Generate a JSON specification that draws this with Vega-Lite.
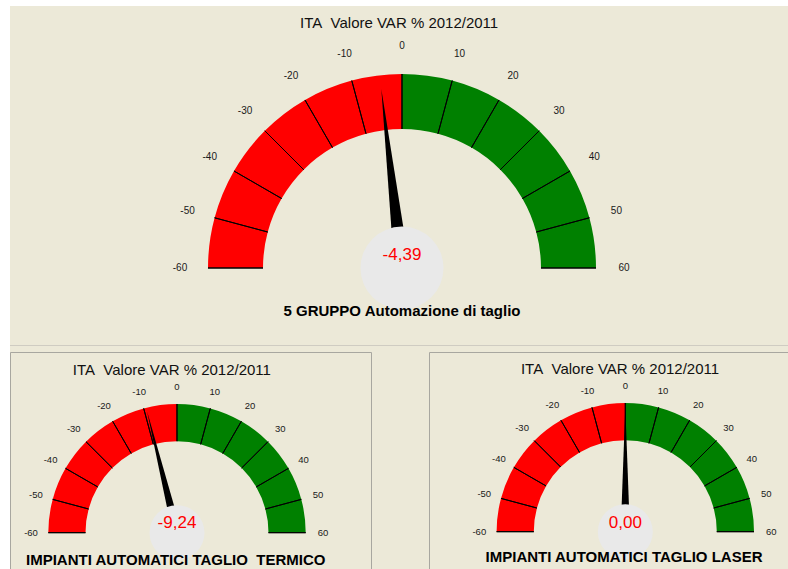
{
  "$schema": "https://vega.github.io/schema/vega-lite/v6.json",
  "background": "#ECE9D8",
  "padding": 0,
  "bounds": "flush",
  "spacing": 0,
  "config": {"view": {"stroke": null}, "font": "Liberation Sans"},
  "datasets": {
    "gauges": [
      {"g": "top", "value": -4.39, "label": "-4,39", "title": "ITA\u00a0 Valore VAR % 2012/2011", "name": "5 GRUPPO Automazione di taglio"},
      {"g": "bl", "value": -9.24, "label": "-9,24", "title": "ITA\u00a0 Valore VAR % 2012/2011", "name": "IMPIANTI AUTOMATICI TAGLIO\u00a0 TERMICO"},
      {"g": "br", "value": 0, "label": "0,00", "title": "ITA\u00a0 Valore VAR % 2012/2011", "name": "IMPIANTI AUTOMATICI TAGLIO LASER"}
    ],
    "bands": [
      {"s": -60, "e": -50, "sign": "neg"}, {"s": -50, "e": -40, "sign": "neg"}, {"s": -40, "e": -30, "sign": "neg"},
      {"s": -30, "e": -20, "sign": "neg"}, {"s": -20, "e": -10, "sign": "neg"}, {"s": -10, "e": 0, "sign": "neg"},
      {"s": 0, "e": 10, "sign": "pos"}, {"s": 10, "e": 20, "sign": "pos"}, {"s": 20, "e": 30, "sign": "pos"},
      {"s": 30, "e": 40, "sign": "pos"}, {"s": 40, "e": 50, "sign": "pos"}, {"s": 50, "e": 60, "sign": "pos"}
    ],
    "ticks": [
      {"v": -60, "t": "-60"}, {"v": -50, "t": "-50"}, {"v": -40, "t": "-40"}, {"v": -30, "t": "-30"},
      {"v": -20, "t": "-20"}, {"v": -10, "t": "-10"}, {"v": 0, "t": "0"}, {"v": 10, "t": "10"},
      {"v": 20, "t": "20"}, {"v": 30, "t": "30"}, {"v": 40, "t": "40"}, {"v": 50, "t": "50"}, {"v": 60, "t": "60"}
    ]
  },
  "hconcat": [
    {"width": 10, "height": 569, "view": {"fill": "#FFFFFF", "stroke": null}, "data": {"values": []}, "mark": "rect"},
    {
      "spacing": 0,
      "bounds": "flush",
      "vconcat": [
        {"width": 778, "height": 6, "view": {"fill": "#FFFFFF", "stroke": null}, "data": {"values": []}, "mark": "rect"},
        {
          "width": 778, "height": 339,
          "view": {"fill": "#ECE9D8", "stroke": null},
          "layer": [
            {
              "data": {"name": "bands"},
              "mark": {"type": "arc", "innerRadius": 139, "outerRadius": 194},
              "encoding": {
                "x": {"datum": 0, "type": "quantitative", "scale": {"domain": [-2.0206, 1.9897], "nice": false, "zero": false}, "axis": null},
                "y": {"datum": 0, "type": "quantitative", "scale": {"domain": [-0.3969, 1.3505], "nice": false, "zero": false}, "axis": null},
                "theta": {"field": "s", "type": "quantitative", "stack": null, "scale": {"domain": [-60, 60], "range": [-1.5708, 1.5708]}},
                "theta2": {"field": "e"},
                "color": {"field": "sign", "type": "nominal", "scale": {"domain": ["neg", "pos"], "range": ["#FF0000", "#008000"]}, "legend": null}
              }
            },
            {
              "data": {"name": "ticks"},
              "mark": {"type": "arc", "innerRadius": 139, "outerRadius": 194, "fill": null, "stroke": "#000000", "strokeWidth": 1},
              "encoding": {
                "x": {"datum": 0, "type": "quantitative", "scale": {"domain": [-2.0206, 1.9897], "nice": false, "zero": false}, "axis": null},
                "y": {"datum": 0, "type": "quantitative", "scale": {"domain": [-0.3969, 1.3505], "nice": false, "zero": false}, "axis": null},
                "theta": {"field": "v", "type": "quantitative", "stack": null, "scale": {"domain": [-60, 60], "range": [-1.5708, 1.5708]}},
                "theta2": {"field": "v"}
              }
            },
            {
              "data": {"name": "gauges"},
              "transform": [{"filter": "datum.g === 'top'"}],
              "mark": {"type": "point", "shape": "M -0.043 0 L 0 -1 L 0.043 0 Z", "size": 129600, "filled": true, "color": "#000000", "opacity": 1, "strokeWidth": 0},
              "encoding": {
                "x": {"datum": 0, "type": "quantitative", "scale": {"domain": [-2.0206, 1.9897], "nice": false, "zero": false}, "axis": null},
                "y": {"datum": 0, "type": "quantitative", "scale": {"domain": [-0.3969, 1.3505], "nice": false, "zero": false}, "axis": null},
                "angle": {"field": "value", "type": "quantitative", "scale": {"domain": [-60, 60], "range": [-90, 90]}}
              }
            },
            {
              "data": {"name": "gauges"},
              "transform": [{"filter": "datum.g === 'top'"}],
              "mark": {"type": "arc", "innerRadius": 0, "outerRadius": 41.5, "theta": 0, "theta2": 6.2832, "fill": "#E9E9E9"},
              "encoding": {
                "x": {"datum": 0, "type": "quantitative", "scale": {"domain": [-2.0206, 1.9897], "nice": false, "zero": false}, "axis": null},
                "y": {"datum": 0, "type": "quantitative", "scale": {"domain": [-0.3969, 1.3505], "nice": false, "zero": false}, "axis": null}
              }
            },
            {
              "data": {"name": "gauges"},
              "transform": [{"filter": "datum.g === 'top'"}],
              "mark": {"type": "text", "color": "#FF0000", "fontSize": 17},
              "encoding": {
                "x": {"datum": 0, "type": "quantitative", "scale": {"domain": [-2.0206, 1.9897], "nice": false, "zero": false}, "axis": null},
                "y": {"datum": 0.067, "type": "quantitative", "scale": {"domain": [-0.3969, 1.3505], "nice": false, "zero": false}, "axis": null},
                "text": {"field": "label"}
              }
            },
            {
              "data": {"name": "ticks"},
              "mark": {"type": "text", "radius": 222, "fontSize": 10, "color": "#1a1a1a"},
              "encoding": {
                "x": {"datum": 0, "type": "quantitative", "scale": {"domain": [-2.0206, 1.9897], "nice": false, "zero": false}, "axis": null},
                "y": {"datum": 0, "type": "quantitative", "scale": {"domain": [-0.3969, 1.3505], "nice": false, "zero": false}, "axis": null},
                "theta": {"field": "v", "type": "quantitative", "stack": null, "scale": {"domain": [-60, 60], "range": [-1.5708, 1.5708]}},
                "text": {"field": "t"}
              }
            },
            {
              "data": {"name": "gauges"},
              "transform": [{"filter": "datum.g === 'top'"}],
              "mark": {"type": "text", "color": "#111111", "fontSize": 15},
              "encoding": {
                "x": {"datum": -0.015, "type": "quantitative", "scale": {"domain": [-2.0206, 1.9897], "nice": false, "zero": false}, "axis": null},
                "y": {"datum": 1.263, "type": "quantitative", "scale": {"domain": [-0.3969, 1.3505], "nice": false, "zero": false}, "axis": null},
                "text": {"field": "title"}
              }
            },
            {
              "data": {"name": "gauges"},
              "transform": [{"filter": "datum.g === 'top'"}],
              "mark": {"type": "text", "color": "#000000", "fontSize": 15, "fontWeight": "bold"},
              "encoding": {
                "x": {"datum": 0, "type": "quantitative", "scale": {"domain": [-2.0206, 1.9897], "nice": false, "zero": false}, "axis": null},
                "y": {"datum": -0.2216, "type": "quantitative", "scale": {"domain": [-0.3969, 1.3505], "nice": false, "zero": false}, "axis": null},
                "text": {"field": "name"}
              }
            }
          ]
        },
        {"width": 778, "height": 1, "view": {"fill": "#CFCCC2", "stroke": null}, "data": {"values": []}, "mark": "rect"},
        {"width": 778, "height": 6, "view": {"fill": "#ECE9D8", "stroke": null}, "data": {"values": []}, "mark": "rect"},
        {
          "spacing": 58,
          "bounds": "flush",
          "hconcat": [
            {
              "width": 361, "height": 217,
              "view": {"fill": "#ECE9D8", "stroke": "#A8A7A0"},
              "layer": [
                {
                  "data": {"name": "bands"},
                  "mark": {"type": "arc", "innerRadius": 91.5, "outerRadius": 128.7},
                  "encoding": {
                    "x": {"datum": 0, "type": "quantitative", "scale": {"domain": [-1.2976, 1.5074], "nice": false, "zero": false}, "axis": null},
                    "y": {"datum": 0, "type": "quantitative", "scale": {"domain": [-0.2821, 1.4041], "nice": false, "zero": false}, "axis": null},
                    "theta": {"field": "s", "type": "quantitative", "stack": null, "scale": {"domain": [-60, 60], "range": [-1.5708, 1.5708]}},
                    "theta2": {"field": "e"},
                    "color": {"field": "sign", "type": "nominal", "scale": {"domain": ["neg", "pos"], "range": ["#FF0000", "#008000"]}, "legend": null}
                  }
                },
                {
                  "data": {"name": "ticks"},
                  "mark": {"type": "arc", "innerRadius": 91.5, "outerRadius": 128.7, "fill": null, "stroke": "#000000", "strokeWidth": 1},
                  "encoding": {
                    "x": {"datum": 0, "type": "quantitative", "scale": {"domain": [-1.2976, 1.5074], "nice": false, "zero": false}, "axis": null},
                    "y": {"datum": 0, "type": "quantitative", "scale": {"domain": [-0.2821, 1.4041], "nice": false, "zero": false}, "axis": null},
                    "theta": {"field": "v", "type": "quantitative", "stack": null, "scale": {"domain": [-60, 60], "range": [-1.5708, 1.5708]}},
                    "theta2": {"field": "v"}
                  }
                },
                {
                  "data": {"name": "gauges"},
                  "transform": [{"filter": "datum.g === 'bl'"}],
                  "mark": {"type": "point", "shape": "M -0.037 0 L 0 -1 L 0.037 0 Z", "size": 62500, "filled": true, "color": "#000000", "opacity": 1, "strokeWidth": 0},
                  "encoding": {
                    "x": {"datum": 0, "type": "quantitative", "scale": {"domain": [-1.2976, 1.5074], "nice": false, "zero": false}, "axis": null},
                    "y": {"datum": 0, "type": "quantitative", "scale": {"domain": [-0.2821, 1.4041], "nice": false, "zero": false}, "axis": null},
                    "angle": {"field": "value", "type": "quantitative", "scale": {"domain": [-60, 60], "range": [-90, 90]}}
                  }
                },
                {
                  "data": {"name": "gauges"},
                  "transform": [{"filter": "datum.g === 'bl'"}],
                  "mark": {"type": "arc", "innerRadius": 0, "outerRadius": 27.5, "theta": 0, "theta2": 6.2832, "fill": "#E9E9E9"},
                  "encoding": {
                    "x": {"datum": 0, "type": "quantitative", "scale": {"domain": [-1.2976, 1.5074], "nice": false, "zero": false}, "axis": null},
                    "y": {"datum": 0, "type": "quantitative", "scale": {"domain": [-0.2821, 1.4041], "nice": false, "zero": false}, "axis": null}
                  }
                },
                {
                  "data": {"name": "gauges"},
                  "transform": [{"filter": "datum.g === 'bl'"}],
                  "mark": {"type": "text", "color": "#FF0000", "fontSize": 17},
                  "encoding": {
                    "x": {"datum": 0, "type": "quantitative", "scale": {"domain": [-1.2976, 1.5074], "nice": false, "zero": false}, "axis": null},
                    "y": {"datum": 0.073, "type": "quantitative", "scale": {"domain": [-0.2821, 1.4041], "nice": false, "zero": false}, "axis": null},
                    "text": {"field": "label"}
                  }
                },
                {
                  "data": {"name": "ticks"},
                  "mark": {"type": "text", "radius": 146, "fontSize": 9.5, "color": "#1a1a1a"},
                  "encoding": {
                    "x": {"datum": 0, "type": "quantitative", "scale": {"domain": [-1.2976, 1.5074], "nice": false, "zero": false}, "axis": null},
                    "y": {"datum": 0, "type": "quantitative", "scale": {"domain": [-0.2821, 1.4041], "nice": false, "zero": false}, "axis": null},
                    "theta": {"field": "v", "type": "quantitative", "stack": null, "scale": {"domain": [-60, 60], "range": [-1.5708, 1.5708]}},
                    "text": {"field": "t"}
                  }
                },
                {
                  "data": {"name": "gauges"},
                  "transform": [{"filter": "datum.g === 'bl'"}],
                  "mark": {"type": "text", "color": "#111111", "fontSize": 15},
                  "encoding": {
                    "x": {"datum": -0.04, "type": "quantitative", "scale": {"domain": [-1.2976, 1.5074], "nice": false, "zero": false}, "axis": null},
                    "y": {"datum": 1.264, "type": "quantitative", "scale": {"domain": [-0.2821, 1.4041], "nice": false, "zero": false}, "axis": null},
                    "text": {"field": "title"}
                  }
                },
                {
                  "data": {"name": "gauges"},
                  "transform": [{"filter": "datum.g === 'bl'"}],
                  "mark": {"type": "text", "color": "#000000", "fontSize": 15, "fontWeight": "bold"},
                  "encoding": {
                    "x": {"datum": -0.01, "type": "quantitative", "scale": {"domain": [-1.2976, 1.5074], "nice": false, "zero": false}, "axis": null},
                    "y": {"datum": -0.212, "type": "quantitative", "scale": {"domain": [-0.2821, 1.4041], "nice": false, "zero": false}, "axis": null},
                    "text": {"field": "name"}
                  }
                }
              ]
            },
            {
              "width": 359, "height": 217,
              "view": {"fill": "#ECE9D8", "stroke": "#A8A7A0"},
              "layer": [
                {
                  "data": {"name": "bands"},
                  "mark": {"type": "arc", "innerRadius": 91.5, "outerRadius": 128.7},
                  "encoding": {
                    "x": {"datum": 0, "type": "quantitative", "scale": {"domain": [-1.5253, 1.2642], "nice": false, "zero": false}, "axis": null},
                    "y": {"datum": 0, "type": "quantitative", "scale": {"domain": [-0.2898, 1.3963], "nice": false, "zero": false}, "axis": null},
                    "theta": {"field": "s", "type": "quantitative", "stack": null, "scale": {"domain": [-60, 60], "range": [-1.5708, 1.5708]}},
                    "theta2": {"field": "e"},
                    "color": {"field": "sign", "type": "nominal", "scale": {"domain": ["neg", "pos"], "range": ["#FF0000", "#008000"]}, "legend": null}
                  }
                },
                {
                  "data": {"name": "ticks"},
                  "mark": {"type": "arc", "innerRadius": 91.5, "outerRadius": 128.7, "fill": null, "stroke": "#000000", "strokeWidth": 1},
                  "encoding": {
                    "x": {"datum": 0, "type": "quantitative", "scale": {"domain": [-1.5253, 1.2642], "nice": false, "zero": false}, "axis": null},
                    "y": {"datum": 0, "type": "quantitative", "scale": {"domain": [-0.2898, 1.3963], "nice": false, "zero": false}, "axis": null},
                    "theta": {"field": "v", "type": "quantitative", "stack": null, "scale": {"domain": [-60, 60], "range": [-1.5708, 1.5708]}},
                    "theta2": {"field": "v"}
                  }
                },
                {
                  "data": {"name": "gauges"},
                  "transform": [{"filter": "datum.g === 'br'"}],
                  "mark": {"type": "point", "shape": "M -0.037 0 L 0 -1 L 0.037 0 Z", "size": 62500, "filled": true, "color": "#000000", "opacity": 1, "strokeWidth": 0},
                  "encoding": {
                    "x": {"datum": 0, "type": "quantitative", "scale": {"domain": [-1.5253, 1.2642], "nice": false, "zero": false}, "axis": null},
                    "y": {"datum": 0, "type": "quantitative", "scale": {"domain": [-0.2898, 1.3963], "nice": false, "zero": false}, "axis": null},
                    "angle": {"field": "value", "type": "quantitative", "scale": {"domain": [-60, 60], "range": [-90, 90]}}
                  }
                },
                {
                  "data": {"name": "gauges"},
                  "transform": [{"filter": "datum.g === 'br'"}],
                  "mark": {"type": "arc", "innerRadius": 0, "outerRadius": 27.5, "theta": 0, "theta2": 6.2832, "fill": "#E9E9E9"},
                  "encoding": {
                    "x": {"datum": 0, "type": "quantitative", "scale": {"domain": [-1.5253, 1.2642], "nice": false, "zero": false}, "axis": null},
                    "y": {"datum": 0, "type": "quantitative", "scale": {"domain": [-0.2898, 1.3963], "nice": false, "zero": false}, "axis": null}
                  }
                },
                {
                  "data": {"name": "gauges"},
                  "transform": [{"filter": "datum.g === 'br'"}],
                  "mark": {"type": "text", "color": "#FF0000", "fontSize": 17},
                  "encoding": {
                    "x": {"datum": 0, "type": "quantitative", "scale": {"domain": [-1.5253, 1.2642], "nice": false, "zero": false}, "axis": null},
                    "y": {"datum": 0.07, "type": "quantitative", "scale": {"domain": [-0.2898, 1.3963], "nice": false, "zero": false}, "axis": null},
                    "text": {"field": "label"}
                  }
                },
                {
                  "data": {"name": "ticks"},
                  "mark": {"type": "text", "radius": 146, "fontSize": 9.5, "color": "#1a1a1a"},
                  "encoding": {
                    "x": {"datum": 0, "type": "quantitative", "scale": {"domain": [-1.5253, 1.2642], "nice": false, "zero": false}, "axis": null},
                    "y": {"datum": 0, "type": "quantitative", "scale": {"domain": [-0.2898, 1.3963], "nice": false, "zero": false}, "axis": null},
                    "theta": {"field": "v", "type": "quantitative", "stack": null, "scale": {"domain": [-60, 60], "range": [-1.5708, 1.5708]}},
                    "text": {"field": "t"}
                  }
                },
                {
                  "data": {"name": "gauges"},
                  "transform": [{"filter": "datum.g === 'br'"}],
                  "mark": {"type": "text", "color": "#111111", "fontSize": 15},
                  "encoding": {
                    "x": {"datum": -0.041, "type": "quantitative", "scale": {"domain": [-1.5253, 1.2642], "nice": false, "zero": false}, "axis": null},
                    "y": {"datum": 1.262, "type": "quantitative", "scale": {"domain": [-0.2898, 1.3963], "nice": false, "zero": false}, "axis": null},
                    "text": {"field": "title"}
                  }
                },
                {
                  "data": {"name": "gauges"},
                  "transform": [{"filter": "datum.g === 'br'"}],
                  "mark": {"type": "text", "color": "#000000", "fontSize": 15, "fontWeight": "bold"},
                  "encoding": {
                    "x": {"datum": -0.01, "type": "quantitative", "scale": {"domain": [-1.5253, 1.2642], "nice": false, "zero": false}, "axis": null},
                    "y": {"datum": -0.2, "type": "quantitative", "scale": {"domain": [-0.2898, 1.3963], "nice": false, "zero": false}, "axis": null},
                    "text": {"field": "name"}
                  }
                }
              ]
            }
          ]
        }
      ]
    }
  ]
}
